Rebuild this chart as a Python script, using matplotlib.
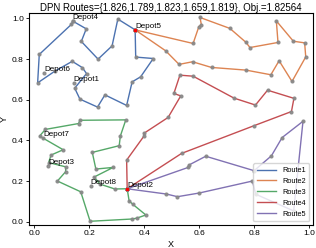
import matplotlib
matplotlib.use("Agg")
from matplotlib import pyplot as plt

plt.rcParams["font.family"] = ["Liberation Sans", "DejaVu Sans"]

colors = ["#4C72B0", "#DD8452", "#55A868", "#C44E52", "#8172B3"]
labels = ["Route1", "Route2", "Route3", "Route4", "Route5"]

route1_x = [0.367, 0.369, 0.433, 0.387, 0.356, 0.336, 0.257, 0.230, 0.166, 0.147, 0.190, 0.175,
            0.138, 0.075, 0.012, 0.018, 0.135, 0.140, 0.189, 0.171, 0.232, 0.283, 0.304, 0.367]
route1_y = [0.944, 0.810, 0.803, 0.713, 0.688, 0.572, 0.624, 0.564, 0.603, 0.657, 0.729, 0.758,
            0.789, 0.741, 0.683, 0.823, 0.971, 0.987, 0.949, 0.887, 0.800, 0.865, 0.997, 0.944]

route2_x = [0.367, 0.578, 0.599, 0.608, 0.603, 0.712, 0.770, 0.785, 0.887, 0.881, 0.943, 0.984,
            0.988, 0.938, 0.891, 0.861, 0.770, 0.645, 0.576, 0.527, 0.478, 0.367]
route2_y = [0.944, 0.877, 0.960, 0.970, 1.005, 0.951, 0.883, 0.857, 0.882, 0.988, 0.888, 0.880,
            0.811, 0.690, 0.792, 0.723, 0.746, 0.759, 0.787, 0.774, 0.841, 0.944]

route3_x = [0.338, 0.345, 0.358, 0.406, 0.372, 0.354, 0.203, 0.169, 0.084, 0.114, 0.114, 0.052,
            0.061, 0.105, 0.019, 0.040, 0.161, 0.166, 0.333, 0.313, 0.309, 0.211, 0.224, 0.287,
            0.218, 0.239, 0.293, 0.338]
route3_y = [0.162, 0.103, 0.086, 0.033, 0.017, 0.013, 0.002, 0.147, 0.200, 0.246, 0.270, 0.291,
            0.328, 0.354, 0.421, 0.454, 0.483, 0.499, 0.501, 0.421, 0.374, 0.341, 0.259, 0.267,
            0.220, 0.185, 0.161, 0.162]

route4_x = [0.338, 0.336, 0.399, 0.399, 0.487, 0.533, 0.508, 0.530, 0.578, 0.727, 0.805, 0.849,
            0.945, 0.936, 0.799, 0.536, 0.338]
route4_y = [0.162, 0.303, 0.421, 0.435, 0.513, 0.619, 0.631, 0.721, 0.716, 0.608, 0.574, 0.647,
            0.607, 0.542, 0.472, 0.336, 0.162]

route5_x = [0.338, 0.560, 0.563, 0.624, 0.800, 0.863, 0.902, 0.978, 0.944, 0.806, 0.794, 0.600,
            0.521, 0.481, 0.338]
route5_y = [0.162, 0.267, 0.279, 0.322, 0.251, 0.324, 0.414, 0.494, 0.053, 0.135, 0.200, 0.141,
            0.123, 0.136, 0.162]

depot_names = ["Depot1", "Depot2", "Depot3", "Depot4", "Depot5", "Depot6", "Depot7", "Depot8"]
depot_x = [0.143, 0.338, 0.051, 0.140, 0.367, 0.035, 0.033, 0.205]
depot_y = [0.684, 0.162, 0.274, 0.987, 0.944, 0.731, 0.410, 0.176]
start_depots = ["Depot2", "Depot5"]

title = "DPN Routes={1.826,1.789,1.823,1.659,1.819}, Obj.=1.82564"

routes = [(route1_x, route1_y), (route2_x, route2_y), (route3_x, route3_y),
          (route4_x, route4_y), (route5_x, route5_y)]

fig = plt.figure(figsize=(3.16, 2.48), dpi=100)
ax = fig.add_axes([0.093, 0.093, 0.898, 0.853])

for (xs, ys), c, lab in zip(routes, colors, labels):
    ax.plot(xs, ys, color=c, lw=1.0, label=lab, zorder=2)
    ax.plot(xs, ys, ls="none", marker="o", ms=2.0, color="#888888", alpha=0.9, zorder=3)

for name, x, y in zip(depot_names, depot_x, depot_y):
    ax.plot(x, y, ls="none", marker="o", ms=2.0, color="#888888", alpha=0.9, zorder=3)
    if name in start_depots:
        ax.plot(x, y, ls="none", marker="s", ms=2.0, color="red", zorder=4)
    ax.text(x, y, name, fontsize=5.8, ha="left", va="bottom", zorder=5)

ax.set_xlim(-0.018, 1.015)
ax.set_ylim(-0.016, 1.025)
ax.set_xticks([0.0, 0.2, 0.4, 0.6, 0.8, 1.0])
ax.set_yticks([0.0, 0.2, 0.4, 0.6, 0.8, 1.0])
ax.tick_params(labelsize=6, length=2.5, width=0.6, pad=1.5)
for s in ax.spines.values():
    s.set_linewidth(0.8)
ax.set_xlabel("X", fontsize=6.5, labelpad=2)
ax.set_ylabel("Y", fontsize=6.5, labelpad=2)
ax.set_title(title, fontsize=7, pad=2)
ax.legend(loc="lower right", fontsize=5.3, handlelength=2.6, borderpad=0.5,
          framealpha=0.8, edgecolor="#cccccc", fancybox=True)

fig.savefig("out.png", dpi=100)
